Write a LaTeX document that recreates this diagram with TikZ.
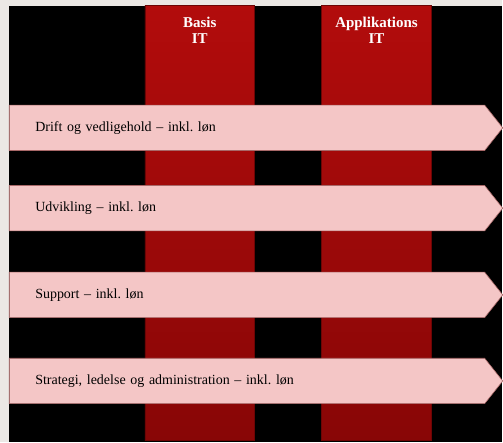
\documentclass[tikz,border=0pt]{standalone}
\usepackage{fontspec}
\setmainfont{Liberation Serif}
\usepackage{xcolor}
\usetikzlibrary{shapes.symbols, positioning}

\definecolor{bgGray}{HTML}{EBE8E5}
\definecolor{colTop}{HTML}{B20C0C}
\definecolor{colBot}{HTML}{880606}
\definecolor{bandFill}{HTML}{F4C6C6}
\definecolor{bandLine}{HTML}{A86868}

\begin{document}
\frenchspacing
\begin{tikzpicture}[
        x=1pt, y=-1pt,
        column/.style={rectangle, draw=colBot!80!black, line width=0.4pt,
            top color=colTop, bottom color=colBot,
            minimum width=110pt, minimum height=436pt, anchor=north, inner sep=0pt},
        coltext/.style={anchor=north, align=center, text=white, inner sep=0pt,
            font=\bfseries\fontsize{15}{16}\selectfont},
        band/.style={signal, signal to=east, signal pointer angle=103,
            fill=bandFill, draw=bandLine, line width=0.6pt,
            text width=424pt, align=left, inner xsep=26pt,
            minimum height=45.5pt, anchor=west,
            font=\fontsize{14}{16}\selectfont},
    ]
        \fill[bgGray] (0,0) rectangle (503,443);
        \fill[black] (9,6) rectangle (503,443);

        \node[column, label={[coltext, yshift=-12.3pt]north:Basis\\IT}] (basis) at (200,5) {};
        \node[column, label={[coltext, yshift=-12.3pt]north:Applikations\\IT}] (applik) at (377,5) {};

        \foreach \y/\name/\txt in {128/drift/Drift og vedligehold -- inkl. løn,
                                   208.5/udv/Udvikling -- inkl. løn,
                                   295.3/support/Support -- inkl. løn,
                                   381.5/strategi/{Strategi, ledelse og administration -- inkl. løn}}
            \node[band] (\name) at (9,\y) {\txt};
    \end{tikzpicture}
\end{document}
